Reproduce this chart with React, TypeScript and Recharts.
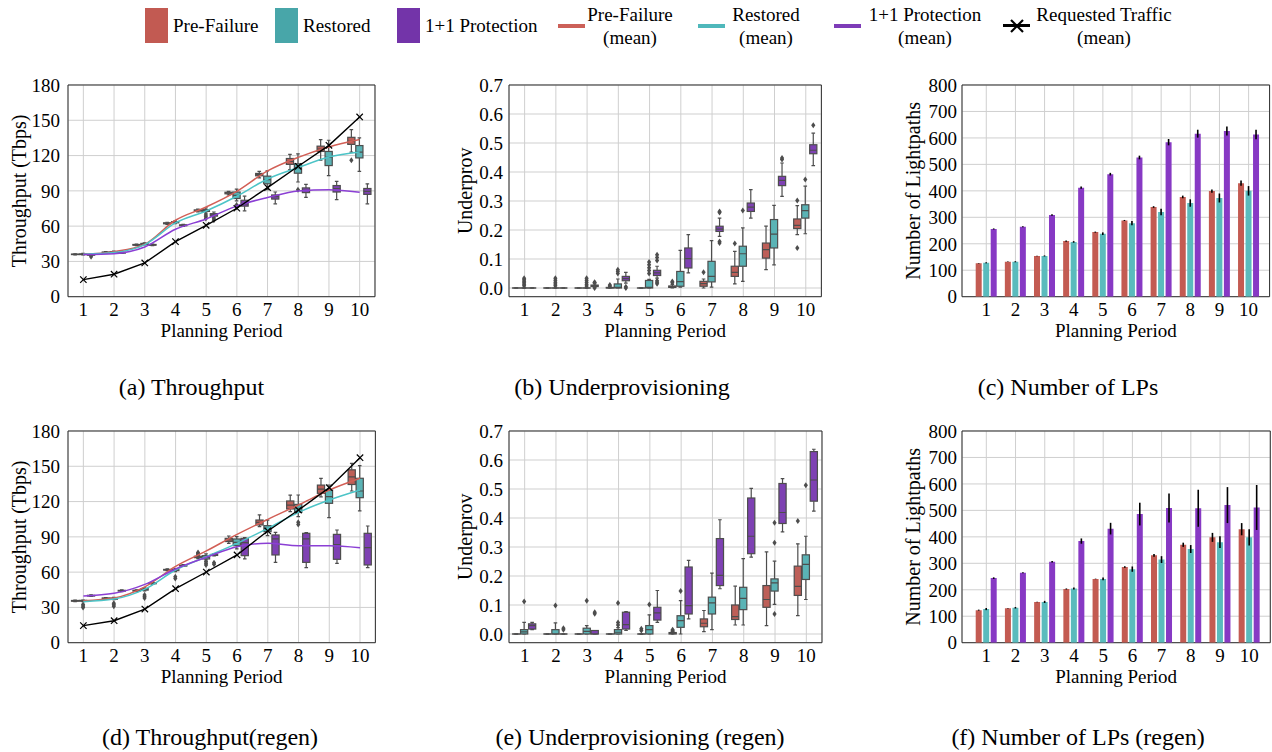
import React from 'react';
import { ComposedChart, Bar, Line, XAxis, YAxis, CartesianGrid, ErrorBar } from 'recharts';

const FONT = '"Liberation Serif", "Times New Roman", Times, serif';

// ---------------- data ----------------
const periods = ['1', '2', '3', '4', '5', '6', '7', '8', '9', '10'];
const tpTicks = [0, 30, 60, 90, 120, 150, 180];
const upTicks = [0, 0.1, 0.2, 0.3, 0.4, 0.5, 0.6, 0.7];
const lpTicks = [0, 100, 200, 300, 400, 500, 600, 700, 800];

// box = [whiskerLow, q1, median, q3, whiskerHigh]
// (a) Throughput
const tpPreBox = [
  [35.5, 35.8, 36.0, 36.2, 36.5], [37.0, 37.3, 37.6, 37.9, 38.3], [43.4, 43.8, 44.1, 44.4, 44.8],
  [61.5, 62.0, 62.4, 62.8, 63.3], [72.0, 72.8, 73.3, 73.8, 74.5], [86.5, 87.5, 88.2, 88.8, 89.5],
  [101.0, 102.8, 103.8, 104.8, 106.5], [108.0, 112.5, 115.0, 117.5, 121.0], [116.0, 123.5, 125.5, 128.0, 133.5],
  [123.0, 129.5, 132.0, 135.5, 142.0],
];
const tpPreOut = [[], [], [], [], [], [], [], [], [], [116]];
const tpResBox = [
  [35.5, 35.8, 36.1, 36.4, 36.8], [37.3, 37.7, 38.0, 38.3, 38.7], [44.0, 44.5, 44.9, 45.3, 45.8],
  [62.0, 62.8, 63.3, 63.8, 64.5], [71.0, 72.5, 73.2, 74.0, 75.5], [81.5, 83.5, 86.2, 89.0, 91.5],
  [91.0, 96.0, 99.5, 102.5, 107.0], [97.5, 105.0, 109.5, 113.0, 121.5], [103.0, 111.5, 118.5, 123.5, 133.0],
  [106.5, 118.0, 123.0, 128.5, 135.0],
];
const tpResOut = [[], [], [], [], [66.5, 68, 69.5], [76, 78], [], [91], [], []];
const tpProBox = [
  [35.0, 35.3, 35.6, 35.9, 36.2], [36.8, 37.1, 37.4, 37.7, 38.0], [43.5, 43.8, 44.1, 44.4, 44.8],
  [59.8, 60.3, 60.7, 61.1, 61.6], [67.5, 68.5, 69.5, 70.6, 72.0], [73.0, 77.0, 79.0, 82.0, 85.5],
  [79.0, 83.0, 85.0, 86.5, 89.0], [84.5, 88.5, 90.5, 92.5, 95.5], [82.5, 89.0, 92.0, 94.5, 98.0],
  [79.0, 87.0, 89.5, 92.0, 96.0],
];
const tpProOut = [[34], [], [], [], [65, 66.2], [], [], [], [], []];
const tpPreMean = [36.1, 38.3, 44.6, 65.0, 76.3, 89.6, 107.0, 118.5, 127.3, 133.6];
const tpResMean = [36.1, 37.5, 44.3, 62.7, 72.9, 85.4, 100.1, 109.8, 118.8, 123.1];
const tpProMean = [35.8, 36.6, 42.3, 57.3, 66.1, 77.2, 84.3, 89.9, 91.0, 88.8];
const tpReqMean = [14.5, 19.1, 28.7, 46.8, 60.7, 75.2, 92.8, 110.9, 128.7, 152.8];

// (b) Underprovisioning
const upPreBox = [
  [0, 0, 0, 0, 0], [0, 0, 0, 0, 0], [0, 0, 0, 0, 0], [0, 0, 0, 0.002, 0.004], [0, 0, 0, 0, 0],
  [0, 0.002, 0.004, 0.007, 0.012], [0, 0.006, 0.015, 0.023, 0.031], [0.014, 0.04, 0.054, 0.075, 0.126],
  [0.063, 0.103, 0.132, 0.155, 0.213], [0.184, 0.205, 0.216, 0.238, 0.284],
];
const upPreOut = [[], [], [], [0.007, 0.01], [], [0.018, 0.022], [0.054], [0.153], [], [0.138, 0.302]];
const upResBox = [
  [0, 0, 0, 0, 0], [0, 0, 0, 0, 0], [0, 0, 0, 0, 0], [0, 0, 0.002, 0.014, 0.031], [0, 0, 0.002, 0.026, 0.03],
  [0.003, 0.006, 0.022, 0.057, 0.13], [0.003, 0.021, 0.04, 0.092, 0.163], [0.023, 0.075, 0.118, 0.144, 0.207],
  [0.08, 0.138, 0.186, 0.236, 0.285], [0.187, 0.241, 0.267, 0.287, 0.351],
];
const upResOut = [
  [0.008, 0.013, 0.018, 0.023, 0.028, 0.034], [0.008, 0.014, 0.02, 0.027, 0.034], [0.007, 0.013, 0.02, 0.027, 0.034],
  [0.05, 0.057, 0.063], [0.05, 0.06, 0.07, 0.08, 0.09], [], [], [0.267], [], [0.374],
];
const upProBox = [
  [0, 0, 0, 0, 0], [0, 0, 0, 0, 0], [0.002, 0.005, 0.008, 0.01, 0.014], [0.017, 0.025, 0.032, 0.04, 0.054],
  [0.034, 0.043, 0.052, 0.061, 0.075], [0.052, 0.069, 0.101, 0.138, 0.184], [0.178, 0.195, 0.203, 0.213, 0.241],
  [0.241, 0.264, 0.279, 0.293, 0.339], [0.316, 0.353, 0.371, 0.385, 0.431], [0.422, 0.463, 0.475, 0.494, 0.534],
];
const upProOut = [
  [], [], [0, 0.018, 0.02], [0, 0.004], [0.015, 0.02, 0.025, 0.095, 0.105, 0.115], [],
  [0.155, 0.16, 0.26, 0.264], [], [0.443, 0.448], [0.561],
];

// (c) Number of LPs
const lpPre = [126, 132, 154, 210, 244, 288, 339, 377, 399, 429];
const lpPreErr = [1, 1, 1, 2, 2, 2, 3, 5, 6, 10];
const lpRes = [128, 132, 154, 207, 238, 278, 320, 354, 373, 400];
const lpResErr = [2, 2, 2, 3, 5, 8, 12, 14, 17, 18];
const lpPro = [256, 264, 309, 412, 463, 526, 584, 616, 626, 613];
const lpProErr = [2, 2, 3, 4, 5, 7, 12, 15, 17, 18];

// (d) Throughput (regen)
const tprPreBox = [
  [35.0, 35.3, 35.6, 35.9, 36.2], [36.8, 37.2, 37.6, 38.0, 38.3], [43.5, 43.9, 44.2, 44.6, 45.0],
  [61.3, 61.7, 62.0, 62.3, 62.8], [71.5, 72.3, 72.9, 73.5, 74.0], [84.5, 86.0, 87.3, 88.7, 90.7],
  [98.7, 100.1, 102.3, 104.3, 108.6], [111.5, 113.7, 117.0, 120.5, 125.5], [124.0, 127.0, 130.5, 134.0, 139.8],
  [129.0, 134.5, 141.0, 147.0, 152.5],
];
const tprPreOut = [[], [], [], [], [74.8, 75.8, 76.6], [], [], [], [], []];
const tprResBox = [
  [35.0, 35.3, 35.7, 36.0, 36.3], [36.5, 37.0, 37.5, 38.0, 38.5], [44.0, 44.7, 45.3, 46.0, 46.7],
  [60.5, 61.3, 61.8, 62.3, 63.0], [70.5, 71.2, 72.6, 74.0, 75.5], [79.7, 82.5, 85.3, 88.2, 90.2],
  [91.0, 94.4, 97.2, 99.5, 104.3], [107.2, 110.8, 114.3, 117.6, 125.6], [106.3, 118.5, 124.2, 129.8, 134.1],
  [112.0, 123.3, 129.0, 139.8, 150.5],
];
const tprResOut = [
  [30.0, 31.2, 32.5], [31.0, 32.2, 33.5], [38.0, 39.3, 40.5], [54.5, 56.0], [66.0, 67.5, 69.0],
  [], [], [100.5, 102.5], [], [],
];
const tprProBox = [
  [39.3, 39.7, 40.0, 40.3, 40.7], [43.5, 43.9, 44.2, 44.5, 44.9], [49.7, 50.1, 50.5, 50.9, 51.3],
  [64.8, 65.2, 65.5, 65.9, 66.3], [73.8, 74.2, 74.6, 75.0, 75.5], [71.2, 74.0, 85.0, 88.7, 89.3],
  [68.3, 74.6, 88.2, 91.6, 93.8], [63.8, 68.3, 88.2, 93.0, 93.6], [67.5, 70.9, 83.5, 92.1, 95.8],
  [63.8, 66.1, 80.8, 93.0, 99.2],
];
const tprProOut = [[], [], [], [], [66.6, 68.0], [], [], [], [], []];
const tprPreMean = [35.7, 38.0, 47.5, 64.9, 78.0, 92.1, 104.9, 117.1, 129.8, 139.8];
const tprResMean = [34.9, 37.1, 45.5, 61.8, 73.1, 84.5, 97.2, 110.8, 121.3, 129.8];
const tprProMean = [39.7, 42.0, 49.6, 62.7, 72.6, 81.6, 84.5, 82.5, 82.5, 80.8];
const tprReqMean = [14.5, 18.7, 28.6, 45.9, 60.1, 74.6, 95.0, 112.8, 131.8, 157.3];

// (e) Underprovisioning (regen)
const uprPreBox = [
  [0, 0, 0, 0, 0], [0, 0, 0, 0, 0], [0, 0, 0, 0, 0], [0, 0, 0, 0, 0], [0, 0, 0, 0, 0],
  [0, 0, 0.002, 0.005, 0.006], [0.008, 0.025, 0.037, 0.052, 0.081], [0.031, 0.05, 0.06, 0.1, 0.165],
  [0.029, 0.092, 0.119, 0.167, 0.283], [0.063, 0.133, 0.164, 0.234, 0.311],
];
const uprPreOut = [[], [], [], [], [0.012, 0.018], [0.008, 0.011, 0.015], [], [], [], [0.39]];
const uprResBox = [
  [0, 0, 0.007, 0.015, 0.04], [0, 0, 0, 0.015, 0.038], [0, 0, 0.009, 0.02, 0.029], [0, 0, 0.006, 0.015, 0.022],
  [0, 0, 0.015, 0.029, 0.066], [0, 0.023, 0.046, 0.063, 0.115], [0.015, 0.069, 0.107, 0.127, 0.21],
  [0.031, 0.084, 0.123, 0.161, 0.26], [0.102, 0.148, 0.176, 0.19, 0.251], [0.119, 0.188, 0.24, 0.273, 0.337],
];
const uprResOut = [[0.112], [0.098], [0.115], [0.031, 0.04, 0.107], [0.102], [0.148], [], [], [0.069, 0.315, 0.384], [0.513]];
const uprProBox = [
  [0.015, 0.017, 0.029, 0.035, 0.04], [0, 0, 0, 0, 0], [0, 0, 0, 0.012, 0.012], [0.012, 0.017, 0.032, 0.075, 0.077],
  [0.04, 0.048, 0.073, 0.092, 0.15], [0.052, 0.069, 0.098, 0.231, 0.254], [0.156, 0.167, 0.202, 0.329, 0.394],
  [0.265, 0.277, 0.337, 0.469, 0.502], [0.352, 0.381, 0.419, 0.519, 0.536], [0.424, 0.458, 0.531, 0.629, 0.637],
];
const uprProOut = [[], [0.015, 0.02], [0.07, 0.075], [], [], [], [], [], [], []];

// (f) Number of LPs (regen)
const lprPre = [123, 130, 154, 203, 241, 286, 330, 370, 398, 429];
const lprPreErr = [2, 1, 1, 2, 1, 3, 5, 8, 17, 23];
const lprRes = [127, 132, 154, 205, 241, 278, 314, 354, 380, 398];
const lprResErr = [4, 3, 4, 4, 5, 10, 13, 15, 22, 31];
const lprPro = [244, 264, 306, 384, 431, 486, 509, 508, 520, 511];
const lprProErr = [3, 2, 3, 10, 22, 43, 55, 70, 68, 85];

// ---------------- styling ----------------
const RED_BOX = '#bd5f58';
const TEAL_BOX = '#5ab3b5';
const PURPLE_BOX = '#7e41b3';
const EDGE = '#4d4d4d';
const RED_LINE = '#d25f56';
const TEAL_LINE = '#4cc4c7';
const PURPLE_LINE = '#8b3fd4';
const BAR_RED = '#c35b52';
const BAR_TEAL = '#5abbbd';
const BAR_PURPLE = '#8739c4';
const GRID = '#cfcfcf';
const FRAME = '#2e2e2e';

const YW = 68;
const MT = 15;
const MR = 4;
const XH = 45;

const TICK = { fontSize: 19, fill: '#000', fontFamily: FONT };

type Geom = { left: number; top: number; w: number; h: number };
const G_A: Geom = { left: 68, top: 85, w: 307, h: 211.7 };
const G_B: Geom = { left: 509.3, top: 85, w: 312.4, h: 211.7 };
const G_C: Geom = { left: 961.7, top: 85, w: 307.6, h: 211.7 };
const G_D: Geom = { left: 68.3, top: 431, w: 307.4, h: 211.7 };
const G_E: Geom = { left: 509.3, top: 431, w: 313, h: 211.7 };
const G_F: Geom = { left: 961.7, top: 431, w: 308.3, h: 211.7 };

const span = (box: number[], out: number[]): [number, number] => [
  Math.min(box[0], ...out),
  Math.max(box[4], ...out),
];

function boxRows(
  pre: number[][], preOut: number[][], res: number[][], resOut: number[][],
  pro: number[][], proOut: number[][], means?: number[][],
) {
  return periods.map((p, i) => ({
    period: p,
    pre: pre[i], preOut: preOut[i],
    res: res[i], resOut: resOut[i],
    pro: pro[i], proOut: proOut[i],
    preMean: means ? means[0][i] : undefined,
    resMean: means ? means[1][i] : undefined,
    proMean: means ? means[2][i] : undefined,
    reqMean: means ? means[3][i] : undefined,
  }));
}

function barRows(
  pre: number[], preErr: number[], res: number[], resErr: number[], pro: number[], proErr: number[],
) {
  return periods.map((p, i) => ({
    period: p, pre: pre[i], preErr: preErr[i], res: res[i], resErr: resErr[i], pro: pro[i], proErr: proErr[i],
  }));
}

const rowsA = boxRows(tpPreBox, tpPreOut, tpResBox, tpResOut, tpProBox, tpProOut, [tpPreMean, tpResMean, tpProMean, tpReqMean]);
const rowsB = boxRows(upPreBox, upPreOut, upResBox, upResOut, upProBox, upProOut);
const rowsC = barRows(lpPre, lpPreErr, lpRes, lpResErr, lpPro, lpProErr);
const rowsD = boxRows(tprPreBox, tprPreOut, tprResBox, tprResOut, tprProBox, tprProOut, [tprPreMean, tprResMean, tprProMean, tprReqMean]);
const rowsE = boxRows(uprPreBox, uprPreOut, uprResBox, uprResOut, uprProBox, uprProOut);
const rowsF = barRows(lprPre, lprPreErr, lprRes, lprResErr, lprPro, lprProErr);

// box-and-whisker drawn inside the bar range [min, max] given by the library's scale
function makeBox(key: string, fill: string) {
  return (p: any) => {
    const { x, y, width, height, payload } = p;
    if (!payload) return <g />;
    const box: number[] = payload[key];
    const out: number[] = payload[key + 'Out'] || [];
    const [lo, hi] = span(box, out);
    const top = Math.min(y, y + height);
    const bot = Math.max(y, y + height);
    const toY = (v: number) => (hi > lo ? bot - ((v - lo) / (hi - lo)) * (bot - top) : bot);
    const cx = x + width / 2;
    const bw = width * 0.9;
    const cap = bw * 0.5;
    const [w0, q1, md, q3, w1] = box.map(toY);
    const sw = 1.2;
    return (
      <g>
        <line x1={cx} x2={cx} y1={w0} y2={q1} stroke={EDGE} strokeWidth={sw} />
        <line x1={cx} x2={cx} y1={q3} y2={w1} stroke={EDGE} strokeWidth={sw} />
        <line x1={cx - cap / 2} x2={cx + cap / 2} y1={w0} y2={w0} stroke={EDGE} strokeWidth={sw} />
        <line x1={cx - cap / 2} x2={cx + cap / 2} y1={w1} y2={w1} stroke={EDGE} strokeWidth={sw} />
        <rect x={cx - bw / 2} y={q3} width={bw} height={Math.max(q1 - q3, 0.01)} fill={fill} stroke={EDGE} strokeWidth={sw} />
        <line x1={cx - bw / 2} x2={cx + bw / 2} y1={md} y2={md} stroke={EDGE} strokeWidth={sw} />
        {out.map((v, i) => {
          const oy = toY(v);
          return (
            <path key={i} d={`M${cx},${oy - 3}L${cx + 2.1},${oy}L${cx},${oy + 3}L${cx - 2.1},${oy}Z`} fill={EDGE} />
          );
        })}
      </g>
    );
  };
}

const XDot = (p: any) => {
  const { cx, cy } = p;
  if (cx == null || cy == null) return <g />;
  const s = 3.2;
  return (
    <g>
      <line x1={cx - s} y1={cy - s} x2={cx + s} y2={cy + s} stroke="#000" strokeWidth={1.2} />
      <line x1={cx - s} y1={cy + s} x2={cx + s} y2={cy - s} stroke="#000" strokeWidth={1.2} />
    </g>
  );
};

const frameH = ({ offset }: any) => [offset.top, offset.top + offset.height];
const frameV = ({ offset }: any) => [offset.left, offset.left + offset.width];

function BoxPanel(props: {
  g: Geom; rows: any[]; domain: [number, number]; ticks: number[]; fmt: (v: number) => string;
  ylabel: string; ylx: number; ytm: number; lines?: boolean;
}) {
  const { g, rows, domain, ticks, fmt, ylabel, ylx, ytm, lines } = props;
  const chartLeft = g.left - YW;
  return (
    <div style={{ position: 'absolute', left: chartLeft, top: g.top - MT }}>
      <ComposedChart
        width={g.w + YW + MR}
        height={g.h + MT + XH}
        data={rows}
        margin={{ top: MT, right: MR, bottom: 0, left: 0 }}
        barCategoryGap="10%"
        barGap={0}
      >
        <CartesianGrid stroke={GRID} strokeWidth={1} />
        <XAxis
          dataKey="period"
          height={XH}
          interval={0}
          tickLine={false}
          tickSize={0}
          tickMargin={6}
          axisLine={false}
          tick={TICK}
          label={{ value: 'Planning Period', position: 'insideBottom', offset: 5, style: { fontSize: 19, fill: '#000', fontFamily: FONT } }}
        />
        <YAxis
          width={YW}
          type="number"
          domain={domain}
          ticks={ticks}
          interval={0}
          allowDataOverflow
          tickFormatter={fmt}
          tickLine={false}
          tickSize={0}
          tickMargin={ytm}
          axisLine={false}
          tick={TICK}
          label={{ value: ylabel, angle: -90, position: 'insideLeft', offset: ylx - chartLeft, style: { textAnchor: 'middle', fontSize: 20, fill: '#000', fontFamily: FONT } }}
        />
        <Bar dataKey={(d: any) => span(d.pre, d.preOut)} shape={makeBox('pre', RED_BOX)} isAnimationActive={false} />
        <Bar dataKey={(d: any) => span(d.res, d.resOut)} shape={makeBox('res', TEAL_BOX)} isAnimationActive={false} />
        <Bar dataKey={(d: any) => span(d.pro, d.proOut)} shape={makeBox('pro', PURPLE_BOX)} isAnimationActive={false} />
        {lines && <Line dataKey="preMean" type="monotone" stroke={RED_LINE} strokeWidth={1.5} dot={false} isAnimationActive={false} />}
        {lines && <Line dataKey="resMean" type="monotone" stroke={TEAL_LINE} strokeWidth={1.5} dot={false} isAnimationActive={false} />}
        {lines && <Line dataKey="proMean" type="monotone" stroke={PURPLE_LINE} strokeWidth={1.5} dot={false} isAnimationActive={false} />}
        {lines && <Line dataKey="reqMean" type="linear" stroke="#000" strokeWidth={1.4} dot={XDot} isAnimationActive={false} />}
        <CartesianGrid stroke={FRAME} strokeWidth={1} horizontalCoordinatesGenerator={frameH} verticalCoordinatesGenerator={frameV} />
      </ComposedChart>
    </div>
  );
}

function BarPanel(props: { g: Geom; rows: any[]; ylx: number; pad: { left: number; right: number } }) {
  const { g, rows, ylx, pad } = props;
  const chartLeft = g.left - YW;
  return (
    <div style={{ position: 'absolute', left: chartLeft, top: g.top - MT }}>
      <ComposedChart
        width={g.w + YW + MR}
        height={g.h + MT + XH}
        data={rows}
        margin={{ top: MT, right: MR, bottom: 0, left: 0 }}
        barGap={1.5}
      >
        <CartesianGrid stroke={GRID} strokeWidth={1} />
        <XAxis
          dataKey="period"
          height={XH}
          interval={0}
          padding={pad}
          tickLine={false}
          tickSize={0}
          tickMargin={6}
          axisLine={false}
          tick={TICK}
          label={{ value: 'Planning Period', position: 'insideBottom', offset: 5, style: { fontSize: 19, fill: '#000', fontFamily: FONT } }}
        />
        <YAxis
          width={YW}
          type="number"
          domain={[0, 800]}
          ticks={lpTicks}
          interval={0}
          allowDataOverflow
          tickLine={false}
          tickSize={0}
          tickMargin={5}
          axisLine={false}
          tick={TICK}
          label={{ value: 'Number of Lightpaths', angle: -90, position: 'insideLeft', offset: ylx - chartLeft, style: { textAnchor: 'middle', fontSize: 20, fill: '#000', fontFamily: FONT } }}
        />
        <Bar dataKey="pre" fill={BAR_RED} barSize={6} isAnimationActive={false}>
          <ErrorBar dataKey="preErr" width={0} stroke="#000" strokeWidth={1.6} />
        </Bar>
        <Bar dataKey="res" fill={BAR_TEAL} barSize={6} isAnimationActive={false}>
          <ErrorBar dataKey="resErr" width={0} stroke="#000" strokeWidth={1.6} />
        </Bar>
        <Bar dataKey="pro" fill={BAR_PURPLE} barSize={6} isAnimationActive={false}>
          <ErrorBar dataKey="proErr" width={0} stroke="#000" strokeWidth={1.6} />
        </Bar>
        <CartesianGrid stroke={FRAME} strokeWidth={1} horizontalCoordinatesGenerator={frameH} verticalCoordinatesGenerator={frameV} />
      </ComposedChart>
    </div>
  );
}

const legendPatches = [
  { label: 'Pre-Failure', color: '#c25a52' },
  { label: 'Restored', color: '#48a6a9' },
  { label: '1+1 Protection', color: '#7334a9' },
];
const patchX = [145, 275, 397];
const legendLines = [
  { label: 'Pre-Failure', color: '#cc6058' },
  { label: 'Restored', color: '#4fb8bb' },
  { label: '1+1 Protection', color: '#7e3cb8' },
  { label: 'Requested Traffic', color: '#000' },
];
const lineX = [558, 698, 834, 1003];
const lineTextCx = [630, 766, 925, 1104];

function Legend() {
  return (
    <>
      {legendPatches.map((it, i) => (
        <React.Fragment key={it.label}>
          <div style={{ position: 'absolute', left: patchX[i], top: 8, width: 23, height: 35, background: it.color }} />
          <div style={{ position: 'absolute', left: patchX[i] + 28, top: 14, fontSize: 19, lineHeight: '23px', whiteSpace: 'nowrap' }}>
            {it.label}
          </div>
        </React.Fragment>
      ))}
      {legendLines.map((it, i) => (
        <React.Fragment key={it.label + 'm'}>
          <div style={{ position: 'absolute', left: lineX[i], top: 24, width: 27, height: i === 3 ? 3 : 4, background: it.color }} />
          {i === 3 && (
            <svg style={{ position: 'absolute', left: lineX[i] + 6, top: 18 }} width={16} height={16}>
              <line x1={2} y1={2} x2={14} y2={14} stroke="#000" strokeWidth={2.2} />
              <line x1={2} y1={14} x2={14} y2={2} stroke="#000" strokeWidth={2.2} />
            </svg>
          )}
          <div
            style={{
              position: 'absolute', left: lineTextCx[i], top: 3, transform: 'translateX(-50%)', textAlign: 'center',
              fontSize: 19, lineHeight: '23px', whiteSpace: 'nowrap',
            }}
          >
            {it.label}
            <br />
            (mean)
          </div>
        </React.Fragment>
      ))}
    </>
  );
}

function Caption({ cx, cy, text }: { cx: number; cy: number; text: string }) {
  return (
    <div
      style={{
        position: 'absolute', left: cx, top: cy - 14, transform: 'translateX(-50%)', fontSize: 24,
        lineHeight: '28px', whiteSpace: 'pre',
      }}
    >
      {text}
    </div>
  );
}

const f0 = (v: number) => String(v);
const f1 = (v: number) => v.toFixed(1);

export default function App() {
  return (
    <div
      style={{
        position: 'absolute', left: 0, top: 0, width: 1272, height: 752, overflow: 'hidden',
        background: '#fff', fontFamily: FONT, color: '#000',
      }}
    >
      <Legend />
      <BoxPanel g={G_A} rows={rowsA} domain={[0, 180]} ticks={tpTicks} fmt={f0} ylabel="Throughput (Tbps)" ylx={19} ytm={8} lines />
      <BoxPanel g={G_B} rows={rowsB} domain={[-0.03, 0.7]} ticks={upTicks} fmt={f1} ylabel="Underprov" ylx={465} ytm={6} />
      <BarPanel g={G_C} rows={rowsC} ylx={913} pad={{ left: 9.7, right: 6.4 }} />
      <BoxPanel g={G_D} rows={rowsD} domain={[0, 180]} ticks={tpTicks} fmt={f0} ylabel="Throughput (Tbps)" ylx={19} ytm={8} lines />
      <BoxPanel g={G_E} rows={rowsE} domain={[-0.03, 0.7]} ticks={upTicks} fmt={f1} ylabel="Underprov" ylx={465} ytm={6} />
      <BarPanel g={G_F} rows={rowsF} ylx={913} pad={{ left: 9.7, right: 6.4 }} />
      <Caption cx={191.5} cy={387} text="(a) Throughput" />
      <Caption cx={622} cy={387} text="(b) Underprovisioning" />
      <Caption cx={1068} cy={387} text="(c) Number of LPs" />
      <Caption cx={210} cy={737} text="(d) Throughput(regen)" />
      <Caption cx={640} cy={737} text="(e) Underprovisioning (regen)" />
      <Caption cx={1078} cy={737} text="(f) Number of LPs (regen)" />
    </div>
  );
}
